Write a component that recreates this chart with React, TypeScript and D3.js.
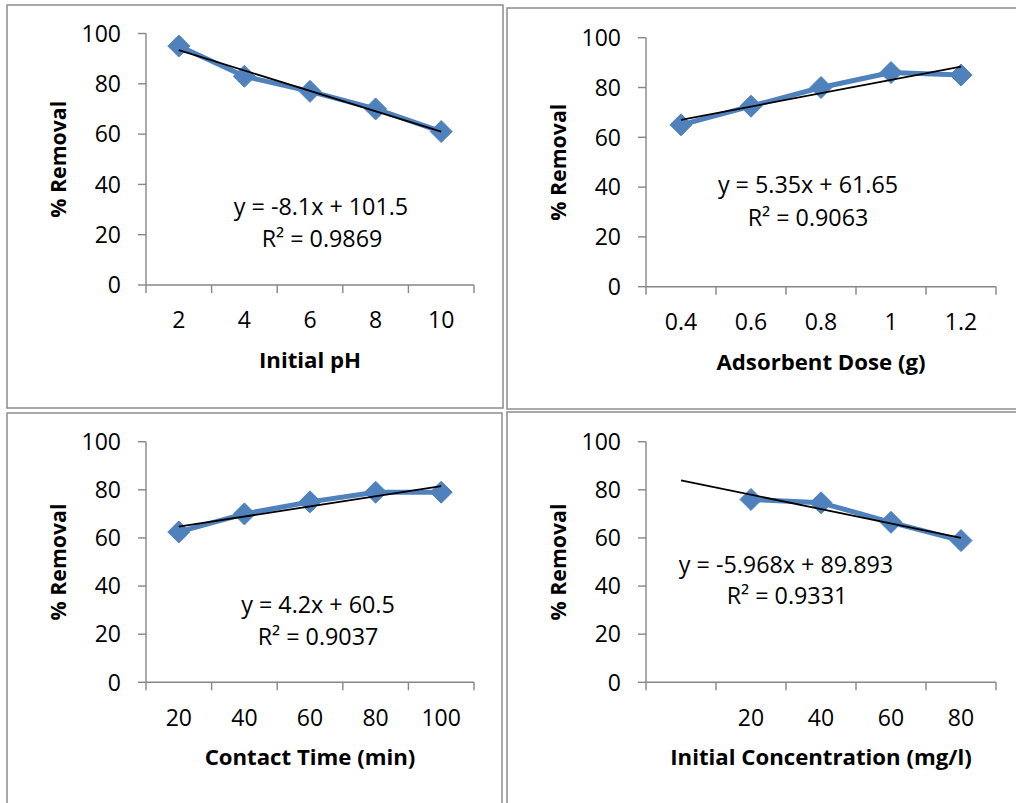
import React from "react";
import * as d3 from "d3";

// ---- data ----
const phCats = ["2", "4", "6", "8", "10"];
const phRemoval = [95, 83, 77, 70, 61];

const doseCats = ["0.4", "0.6", "0.8", "1", "1.2"];
const doseRemoval = [65, 72.5, 80, 86, 85];

const timeCats = ["20", "40", "60", "80", "100"];
const timeRemoval = [62.5, 70, 75, 79, 79];

const concCats = ["", "20", "40", "60", "80"];
const concRemoval: (number | null)[] = [null, 76, 74.6, 66.5, 58.9];

const yTicks = [0, 20, 40, 60, 80, 100];

const trendSlopes = [-8.1, 5.35, 4.2, -5.968];
const trendIntercepts = [101.5, 61.65, 60.5, 89.893];
const eqLabels = ["y = -8.1x + 101.5", "y = 5.35x + 61.65", "y = 4.2x + 60.5", "y = -5.968x + 89.893"];
const r2Labels = ["R² = 0.9869", "R² = 0.9063", "R² = 0.9037", "R² = 0.9331"];
const xTitles = ["Initial pH", "Adsorbent Dose (g)", "Contact Time (min)", "Initial Concentration (mg/l)"];
const yTitle = "% Removal";

// ---- layout ----
const panels = [
  { cats: phCats, vals: phRemoval as (number | null)[], border: [7, 5, 503, 408], plot: [146, 474, 33.5, 285], eq: [321, 215, 322, 247] },
  { cats: doseCats, vals: doseRemoval as (number | null)[], border: [507, 8, 1030, 409], plot: [646, 996, 37.7, 286.7], eq: [808, 193, 808, 226] },
  { cats: timeCats, vals: timeRemoval as (number | null)[], border: [7, 413, 502, 820], plot: [146, 474, 441.7, 682.3], eq: [318, 613, 318, 645] },
  { cats: concCats, vals: concRemoval, border: [507, 412, 1030, 820], plot: [646, 996, 441.7, 682.3], eq: [786, 573, 787, 604] },
];

const FONT = "'Open Sans', sans-serif";
const AXIS = "#868686";
const BLUE = "#4F81BD";

function Panel({ p, i }: { p: (typeof panels)[number]; i: number }) {
  const [l, r, t, b] = p.plot;
  const x = d3.scaleBand<string>().domain(p.cats.map((_, k) => String(k))).range([l, r]).padding(0);
  const y = d3.scaleLinear().domain([0, 100]).range([b, t]);
  const cx = (k: number) => (x(String(k)) as number) + x.bandwidth() / 2;
  const pts = p.vals.map((v, k) => ({ k, v }));
  const line = d3
    .line<{ k: number; v: number | null }>()
    .defined((d) => d.v != null)
    .x((d) => cx(d.k))
    .y((d) => y(d.v as number));
  const n = p.cats.length;
  const trend = d3
    .line<number>()
    .x((k) => cx(k))
    .y((k) => y(trendSlopes[i] * (k + 1) + trendIntercepts[i]));
  const edges = d3.range(n + 1).map((k) => l + k * x.bandwidth());
  const h = 11;
  const [bx0, by0, bx1, by1] = p.border;
  return (
    <g>
      <rect x={bx0} y={by0} width={bx1 - bx0} height={by1 - by0} fill="white" stroke="#8c8c8c" strokeWidth={1.5} />
      {/* y axis */}
      <line x1={l} x2={l} y1={t} y2={b} stroke={AXIS} strokeWidth={1.4} />
      {yTicks.map((v) => (
        <g key={v}>
          <line x1={l - 8} x2={l} y1={y(v)} y2={y(v)} stroke={AXIS} strokeWidth={1.4} />
          <text x={l - 25} y={y(v)} dy="0.36em" textAnchor="end" fontFamily={FONT} fontSize={23} fill="#000">
            {v}
          </text>
        </g>
      ))}
      {/* x axis */}
      <line x1={l} x2={r} y1={b} y2={b} stroke={AXIS} strokeWidth={1.4} />
      {edges.map((e, k) => (
        <line key={k} x1={e} x2={e} y1={b} y2={b + 8} stroke={AXIS} strokeWidth={1.4} />
      ))}
      {p.cats.map((c, k) => (
        <text key={k} x={cx(k)} y={b + 35} dy="0.36em" textAnchor="middle" fontFamily={FONT} fontSize={23} fill="#000">
          {c}
        </text>
      ))}
      <text x={(l + r) / 2} y={b + 75} dy="0.36em" textAnchor="middle" fontFamily={FONT} fontSize={22.2} fontWeight="bold" fill="#000">
        {xTitles[i]}
      </text>
      <text
        transform={`translate(${l - 88},${(t + b) / 2}) rotate(-90)`}
        dy="0.36em"
        textAnchor="middle"
        fontFamily={FONT}
        fontSize={21.3}
        fontWeight="bold"
        fill="#000"
      >
        {yTitle}
      </text>
      {/* series */}
      <path d={line(pts) || ""} fill="none" stroke={BLUE} strokeWidth={5} strokeLinejoin="round" />
      {pts
        .filter((d) => d.v != null)
        .map((d) => {
          const px = cx(d.k);
          const py = y(d.v as number);
          return (
            <path
              key={d.k}
              d={`M${px},${py - h}L${px + h},${py}L${px},${py + h}L${px - h},${py}Z`}
              fill={BLUE}
              stroke={BLUE}
              strokeWidth={1}
            />
          );
        })}
      <path d={trend([0, n - 1]) || ""} fill="none" stroke="#000" strokeWidth={1.8} />
      <text x={p.eq[0]} y={p.eq[1]} textAnchor="middle" fontFamily={FONT} fontSize={23.3} fill="#000">
        {eqLabels[i]}
      </text>
      <text x={p.eq[2]} y={p.eq[3]} textAnchor="middle" fontFamily={FONT} fontSize={23.3} fill="#000">
        {r2Labels[i]}
      </text>
    </g>
  );
}

export default function App() {
  return (
    <svg
      width={1016}
      height={803}
      style={{ position: "fixed", left: 0, top: 0, background: "white", display: "block" }}
    >
      <rect x={0} y={0} width={1016} height={803} fill="white" />
      {panels.map((p, i) => (
        <Panel key={i} p={p} i={i} />
      ))}
    </svg>
  );
}
